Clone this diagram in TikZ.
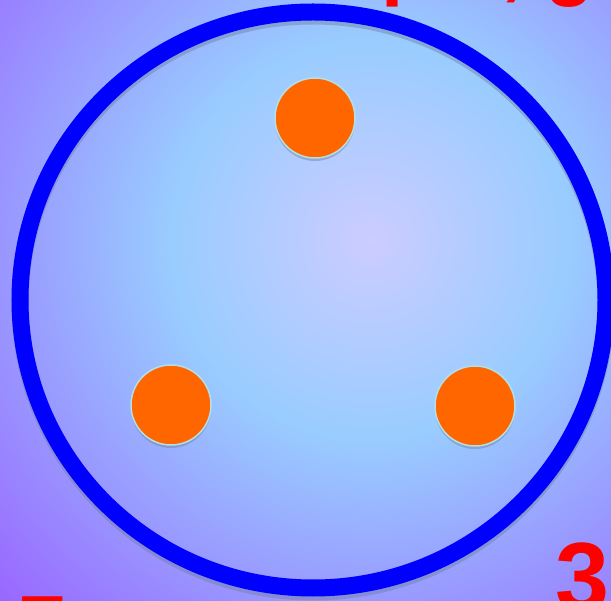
\documentclass[tikz,border=0pt]{standalone}
\usepackage{fontspec}
\setmainfont{Liberation Sans}
\usetikzlibrary{shadows}

\definecolor{glowcenter}{HTML}{CCCCFF}
\definecolor{glowmid}{HTML}{99CCFF}
\definecolor{glowedge}{HTML}{9966FF}
\definecolor{pinorange}{HTML}{FF6600}
\definecolor{pinrim}{HTML}{B4E0E4}
\definecolor{ringblue}{HTML}{0000FF}
\definecolor{shadowgray}{HTML}{6E7FA0}
\definecolor{labelred}{HTML}{FF0000}

\pgfdeclareradialshading{backglow}{\pgfpoint{0bp}{0bp}}{%
  color(0bp)=(glowcenter); color(9.6bp)=(glowmid); color(25bp)=(glowedge); color(50bp)=(glowedge)}

\begin{document}
\begin{tikzpicture}[
    x=1pt, y=-1pt,
    pin/.style={circle, fill=pinorange, draw=pinrim, line width=1.5pt,
      minimum size=80pt, inner sep=0pt,
      drop shadow={shadow xshift=0pt, shadow yshift=-3pt, fill=shadowgray, opacity=.45}},
    ring/.style={draw=ringblue, line width=17pt},
    ringshadow/.style={draw=shadowgray, line width=17pt, opacity=.45},
    numlabel/.style={text=labelred, inner sep=0pt, anchor=base west,
      font=\fontsize{97}{97}\selectfont\bfseries},
    toplabel/.style={text=labelred, inner sep=0pt, anchor=base west,
      font=\fontsize{80}{80}\selectfont\bfseries}
]
    \useasboundingbox (0,0) rectangle (611,601);
    \clip (0,0) rectangle (611,601);

    % background glow
    \shade[shading=backglow] (370,240) circle (520);

    % connector body
    \draw[ringshadow] (313,304) ellipse [x radius=293, y radius=288];
    \draw[ring] (313,300) ellipse [x radius=293, y radius=288];

    % pins
    \node[pin] (pintop) at (315,118) {};
    \node[pin] (pinleft) at (171,405) {};
    \node[pin] (pinright) at (475,406) {};

    % labels
    \node[toplabel] (title) at (381,-9) {pin, g};
    \node[numlabel] (numleft) at (15,663) {5};
    \node[numlabel] (numright) at (555,610) {3};
\end{tikzpicture}
\end{document}
